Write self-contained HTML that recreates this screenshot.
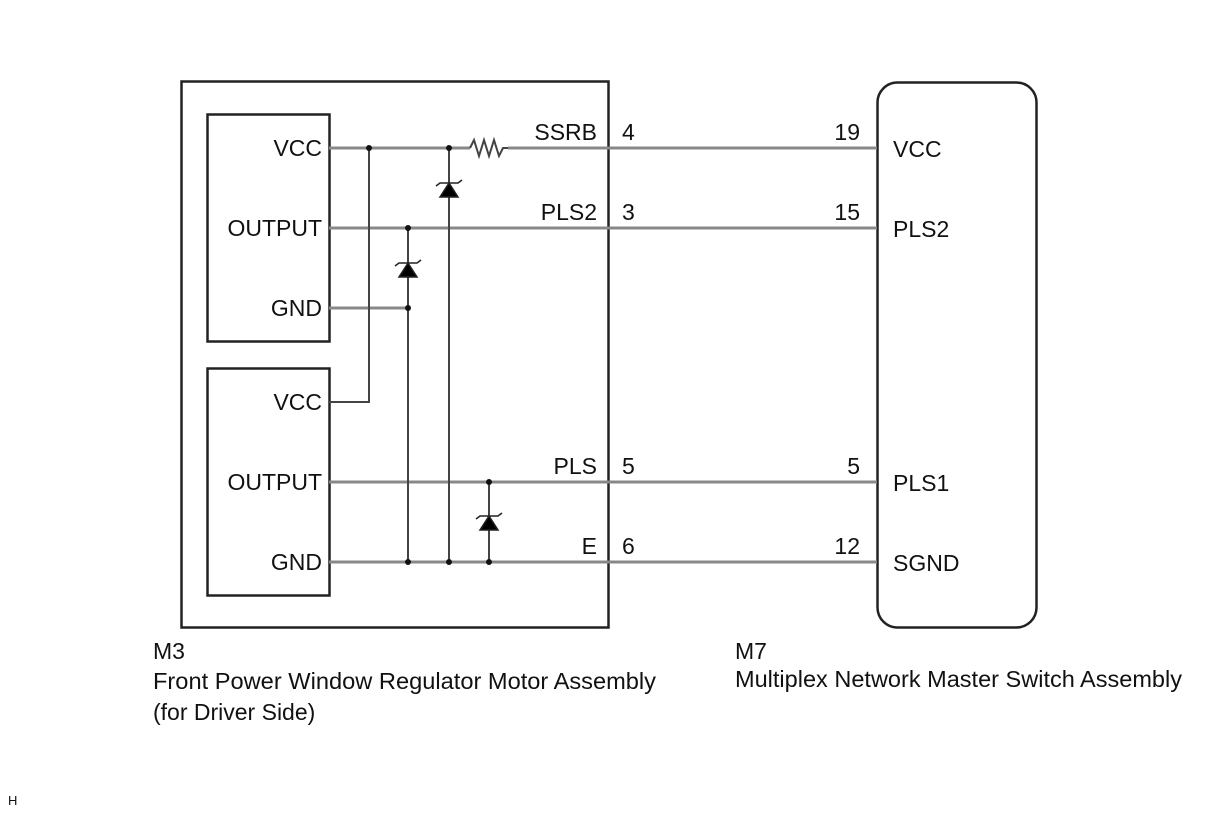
<!DOCTYPE html>
<html><head><meta charset="utf-8"><style>
html,body{margin:0;padding:0;background:#fff;}
svg{display:block;}
text{font-family:"Liberation Sans",Arial,sans-serif;fill:#111;font-size:23px;}
</style></head><body>
<svg width="1210" height="814" viewBox="0 0 1210 814" xmlns="http://www.w3.org/2000/svg">
<rect x="181.5" y="81.5" width="427" height="546" fill="none" stroke="#222" stroke-width="2.5"/>
<rect x="207.5" y="114.5" width="122" height="227" fill="none" stroke="#222" stroke-width="2.5"/>
<rect x="207.5" y="368.5" width="122" height="227" fill="none" stroke="#222" stroke-width="2.5"/>
<rect x="877.5" y="82.5" width="159" height="545" rx="20" fill="none" stroke="#222" stroke-width="2.5"/>
<g stroke="#888" stroke-width="3" fill="none">
<line x1="329" y1="148" x2="470" y2="148"/>
<line x1="508" y1="148" x2="877" y2="148"/>
<line x1="329" y1="228" x2="877" y2="228"/>
<line x1="329" y1="308" x2="408" y2="308"/>
<line x1="329" y1="482" x2="877" y2="482"/>
<line x1="329" y1="562" x2="877" y2="562"/>
</g>
<polyline points="470,148 474,140 479,156 484,140 489,156 494,140 499,156 503,148 508,148" fill="none" stroke="#444" stroke-width="2"/>
<g stroke="#444" stroke-width="2" fill="none">
<polyline points="369,148 369,402 329,402"/>
<line x1="408" y1="228" x2="408" y2="562"/>
<line x1="449" y1="148" x2="449" y2="562"/>
<line x1="489" y1="482" x2="489" y2="562"/>
</g>
<g fill="#000" stroke="#222" stroke-width="1.5">
<polygon points="449,183 440,197 458,197"/>
<polyline points="436,186 440,183 458,183 462,180" fill="none"/>
<polygon points="408,263 399,277 417,277"/>
<polyline points="395,266 399,263 417,263 421,260" fill="none"/>
<polygon points="489,516 480,530 498,530"/>
<polyline points="476,519 480,516 498,516 502,513" fill="none"/>
</g>
<g fill="#111">
<circle cx="369" cy="148" r="3"/><circle cx="449" cy="148" r="3"/>
<circle cx="408" cy="228" r="3"/><circle cx="408" cy="308" r="3"/>
<circle cx="489" cy="482" r="3"/>
<circle cx="408" cy="562" r="3"/><circle cx="449" cy="562" r="3"/><circle cx="489" cy="562" r="3"/>
</g>
<g text-anchor="end">
<text x="322" y="156">VCC</text>
<text x="322" y="236">OUTPUT</text>
<text x="322" y="316">GND</text>
<text x="322" y="410">VCC</text>
<text x="322" y="490">OUTPUT</text>
<text x="322" y="570">GND</text>
<text x="597" y="140">SSRB</text>
<text x="597" y="220">PLS2</text>
<text x="597" y="474">PLS</text>
<text x="597" y="554">E</text>
<text x="860" y="140">19</text>
<text x="860" y="220">15</text>
<text x="860" y="474">5</text>
<text x="860" y="554">12</text>
</g>
<text x="622" y="140">4</text>
<text x="622" y="220">3</text>
<text x="622" y="474">5</text>
<text x="622" y="554">6</text>
<text x="893" y="157">VCC</text>
<text x="893" y="237">PLS2</text>
<text x="893" y="491">PLS1</text>
<text x="893" y="571">SGND</text>
<text x="153" y="659">M3</text>
<text x="153" y="689" textLength="503" lengthAdjust="spacingAndGlyphs">Front Power Window Regulator Motor Assembly</text>
<text x="153" y="720">(for Driver Side)</text>
<text x="735" y="659">M7</text>
<text x="735" y="687" textLength="447" lengthAdjust="spacingAndGlyphs">Multiplex Network Master Switch Assembly</text>
<text x="8" y="805" style="font-size:13px">H</text>
</svg>
</body></html>
